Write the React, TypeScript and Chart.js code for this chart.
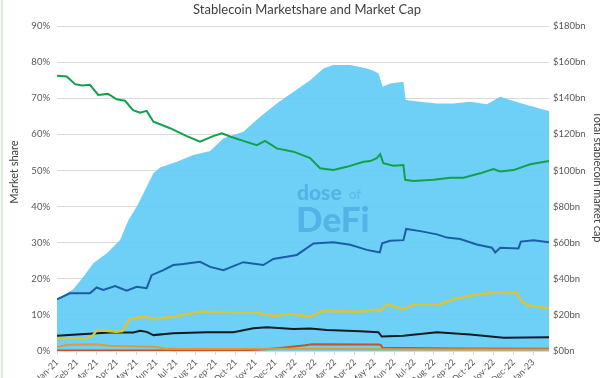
import React, { useEffect, useRef } from "react";
import { Chart, registerables } from "chart.js";

Chart.register(...registerables);

const monthLabels = [
  "Jan-21", "Feb-21", "Mar-21", "Apr-21", "May-21", "Jun-21", "Jul-21", "Aug-21", "Sep-21", "Oct-21", "Nov-21", "Dec-21",
  "Jan-22", "Feb-22", "Mar-22", "Apr-22", "May-22", "Jun-22", "Jul-22", "Aug-22", "Sep-22", "Oct-22", "Nov-22", "Dec-22",
  "Jan-23",
];

// [months since Jan-21, value]
const marketCapBn: [number, number][] = [
  [0.0, 28.6], [0.82, 34.2], [1.33, 41.1], [1.83, 48.6], [2.51, 54.1], [3.18, 61.5], [3.6, 72.5], [4.02, 79.9],
  [4.52, 91.0], [4.86, 98.4], [5.19, 101.7], [6.04, 104.8], [6.87, 108.5], [7.72, 110.8], [8.39, 117.8],
  [9.39, 121.4], [10.24, 129.7], [11.08, 137.1], [11.92, 143.6], [12.76, 150.0], [13.43, 156.5], [13.93, 158.4],
  [14.78, 158.4], [15.62, 156.5], [15.89, 155.5], [16.2, 153.8], [16.42, 146.3], [16.79, 148.2], [17.46, 149.1],
  [17.58, 139.0], [18.31, 138.0], [19.15, 137.1], [19.98, 137.1], [20.83, 138.0], [21.67, 136.6], [22.34, 140.8],
  [22.85, 139.0], [23.69, 136.2], [24.8, 132.9],
];

const usdtShare: [number, number][] = [
  [0.0, 76.2], [0.49, 76.0], [0.91, 73.9], [1.26, 73.5], [1.66, 73.7], [2.08, 70.9], [2.57, 71.2], [3.01, 69.7],
  [3.43, 69.3], [3.83, 66.7], [4.19, 66.0], [4.52, 66.5], [4.86, 63.5], [5.7, 61.7], [6.54, 59.5], [7.21, 58.0],
  [7.87, 59.5], [8.31, 60.3], [8.72, 59.4], [9.39, 58.2], [10.07, 57.0], [10.49, 58.2], [11.08, 56.1],
  [11.92, 55.2], [12.76, 53.4], [13.26, 50.6], [13.93, 50.1], [14.61, 51.0], [15.45, 52.4], [15.79, 52.6],
  [16.12, 53.4], [16.29, 54.5], [16.45, 52.0], [16.96, 51.3], [17.46, 51.5], [17.55, 47.4], [17.97, 47.1],
  [18.98, 47.4], [19.82, 48.0], [20.49, 48.0], [21.33, 49.2], [22.0, 50.4], [22.34, 49.7], [23.01, 50.1],
  [23.85, 51.7], [24.8, 52.6],
];

const usdcShare: [number, number][] = [
  [0.0, 14.3], [0.65, 16.0], [1.66, 16.0], [2.0, 17.6], [2.33, 16.9], [2.93, 18.0], [3.51, 16.7], [4.02, 17.8],
  [4.52, 17.4], [4.77, 21.0], [5.36, 22.4], [5.86, 23.8], [6.37, 24.1], [7.21, 24.7], [7.72, 23.3], [8.39, 22.4],
  [9.39, 24.6], [10.4, 23.8], [10.9, 25.5], [12.09, 26.6], [12.93, 29.8], [13.93, 30.1], [14.78, 29.4],
  [15.62, 28.0], [16.1, 27.5], [16.27, 27.3], [16.39, 29.8], [16.79, 30.5], [17.46, 30.7], [17.6, 33.8],
  [18.31, 33.2], [19.15, 32.3], [19.65, 31.4], [20.32, 31.0], [21.16, 29.5], [21.92, 28.6], [22.09, 27.3],
  [22.34, 28.6], [23.26, 28.4], [23.38, 30.3], [24.02, 30.7], [24.8, 30.1],
];

const busdShare: [number, number][] = [
  [0.0, 3.5], [1.5, 3.5], [1.8, 4.2], [2.0, 5.8], [3.0, 5.3], [3.3, 5.5], [3.68, 9.0], [4.52, 9.5], [4.86, 8.8],
  [5.86, 9.5], [6.54, 10.2], [7.21, 10.9], [8.89, 10.6], [10.07, 10.6], [10.9, 9.7], [11.08, 9.8], [11.92, 10.2],
  [12.76, 9.5], [13.43, 11.1], [15.28, 10.9], [16.12, 11.4], [16.29, 11.1], [16.63, 12.9], [17.46, 11.6],
  [17.97, 12.9], [19.31, 12.9], [19.82, 14.1], [20.83, 15.3], [22.0, 16.2], [23.18, 16.0], [23.43, 13.7],
  [23.85, 12.5], [24.8, 11.8],
];

const daiShare: [number, number][] = [
  [0.0, 4.2], [1.0, 4.6], [2.67, 5.1], [3.85, 5.1], [4.19, 5.6], [4.52, 5.3], [4.86, 4.4], [5.86, 4.9],
  [7.55, 5.2], [8.89, 5.2], [9.9, 6.3], [10.57, 6.6], [11.92, 6.1], [12.76, 6.2], [13.6, 5.8], [15.28, 5.5],
  [16.2, 5.2], [16.37, 4.0], [17.46, 4.2], [19.15, 5.2], [20.83, 4.6], [22.51, 3.7], [24.8, 3.8],
];

const otherShare: [number, number][] = [
  [0.0, 1.1], [0.55, 1.7], [1.92, 1.9], [2.76, 1.4], [3.5, 1.3], [4.94, 1.2], [5.45, 0.7], [8.0, 0.6],
  [12.0, 0.6], [16.4, 0.5], [20.0, 0.45], [24.8, 0.45],
];

const ustShare: [number, number][] = [
  [0.0, 0.15], [9.31, 0.2], [10.5, 0.5], [11.5, 1.0], [12.5, 1.6], [12.86, 1.9], [16.2, 1.8], [16.32, 1.7],
  [16.4, 0.9], [20.0, 0.7], [24.8, 0.6],
];

const FONT = "Lato, 'Open Sans', sans-serif";

const toXY = (arr: [number, number][]) => arr.map(([x, y]) => ({ x, y }));

const overlayPlugin = {
  id: "overlay",
  afterDatasetsDraw(chart: any) {
    const ctx = chart.ctx;
    ctx.save();
    ctx.textBaseline = "alphabetic";
    ctx.textAlign = "left";
    ctx.fillStyle = "rgba(40,130,205,0.38)";
    ctx.font = `900 21px ${FONT}`;
    ctx.fillText("dose", 297, 200);
    ctx.font = `700 13px ${FONT}`;
    ctx.fillStyle = "rgba(40,130,205,0.25)";
    ctx.fillText("of", 349, 199);
    ctx.fillStyle = "rgba(40,130,205,0.38)";
    ctx.font = `900 35px ${FONT}`;
    ctx.fillText("DeFi", 296, 232);
    ctx.restore();
  },
  afterDraw(chart: any) {
    const ctx = chart.ctx;
    ctx.save();
    ctx.fillStyle = "#404040";
    ctx.textAlign = "center";
    ctx.textBaseline = "middle";
    ctx.font = `13px ${FONT}`;
    ctx.fillText("Stablecoin Marketshare and Market Cap", 307, 10);
    ctx.font = `11px ${FONT}`;
    ctx.save();
    ctx.translate(14, 172);
    ctx.rotate(-Math.PI / 2);
    ctx.fillText("Market share", 0, 0);
    ctx.restore();
    ctx.save();
    ctx.translate(598, 177);
    ctx.rotate(Math.PI / 2);
    ctx.fillText("Total stablecoin market cap", 0, 0);
    ctx.restore();
    ctx.restore();
  },
};

export default function App() {
  const canvasRef = useRef<HTMLCanvasElement | null>(null);

  useEffect(() => {
    if (!canvasRef.current) return;
    const lineDs = (label: string, arr: [number, number][], color: string, width = 2) => ({
      type: "line" as const,
      label,
      data: toXY(arr),
      borderColor: color,
      backgroundColor: color,
      borderWidth: width,
      pointRadius: 0,
      fill: false,
      yAxisID: "y",
      order: 0,
    });
    const chart = new Chart(canvasRef.current, {
      type: "line",
      data: {
        datasets: [
          lineDs("USDT", usdtShare, "#11A14A", 2),
          lineDs("USDC", usdcShare, "#1B5EA6", 2),
          lineDs("BUSD", busdShare, "#D8C53A", 2.5),
          lineDs("DAI", daiShare, "#111B24", 2),
          lineDs("Other", otherShare, "#E39A34", 2),
          lineDs("UST", ustShare, "#C0552A", 2),
          {
            type: "line",
            label: "Market cap",
            data: toXY(marketCapBn),
            borderWidth: 0,
            borderColor: "rgba(0,0,0,0)",
            backgroundColor: "rgba(95,203,246,0.9)",
            pointRadius: 0,
            fill: "origin",
            yAxisID: "y1",
            order: 10,
          },
        ],
      },
      options: {
        animation: false,
        responsive: true,
        maintainAspectRatio: false,
        events: [],
        layout: { padding: { top: 26, left: 0, right: 0, bottom: 0 } },
        plugins: {
          legend: { display: false },
          tooltip: { enabled: false },
          title: { display: false },
        },
        scales: {
          x: {
            type: "linear",
            position: "bottom",
            min: 0,
            max: 24.8,
            afterBuildTicks: (s: any) => {
              s.ticks = monthLabels.map((_, i) => ({ value: i }));
            },
            afterFit: (s: any) => {
              s.height = 27;
            },
            ticks: {
              autoSkip: false,
              maxRotation: 45,
              minRotation: 45,
              padding: 2,
              color: "#595959",
              font: { family: FONT, size: 9 },
              callback: (v: any) => monthLabels[Math.round(Number(v))] ?? "",
            },
            grid: { display: true, drawOnChartArea: false, drawTicks: true, tickLength: 4, color: "#d9d9d9" },
            border: { display: false },
          },
          y: {
            position: "left",
            min: 0,
            max: 90,
            afterFit: (s: any) => {
              s.width = 57;
            },
            ticks: {
              stepSize: 10,
              padding: 7,
              color: "#595959",
              font: { family: FONT, size: 9.5 },
              callback: (v: any) => `${v}%`,
            },
            grid: { color: "#d9d9d9", drawTicks: false, lineWidth: 1 },
            border: { display: false },
          },
          y1: {
            position: "right",
            min: 0,
            max: 180,
            afterFit: (s: any) => {
              s.width = 51;
            },
            ticks: {
              stepSize: 20,
              padding: 4,
              color: "#595959",
              font: { family: FONT, size: 9.5 },
              callback: (v: any) => `$${v}bn`,
            },
            grid: { display: false, drawOnChartArea: false, drawTicks: false },
            border: { display: false },
          },
        },
      },
      plugins: [overlayPlugin],
    } as any);
    return () => chart.destroy();
  }, []);

  return (
    <div style={{ position: "fixed", left: 0, top: 0, width: 600, height: 378, background: "#fff" }}>
      <div style={{ position: "absolute", left: 1, top: 0, width: 2, height: 378, background: "#dcefd6" }} />
      <canvas ref={canvasRef} />
    </div>
  );
}
